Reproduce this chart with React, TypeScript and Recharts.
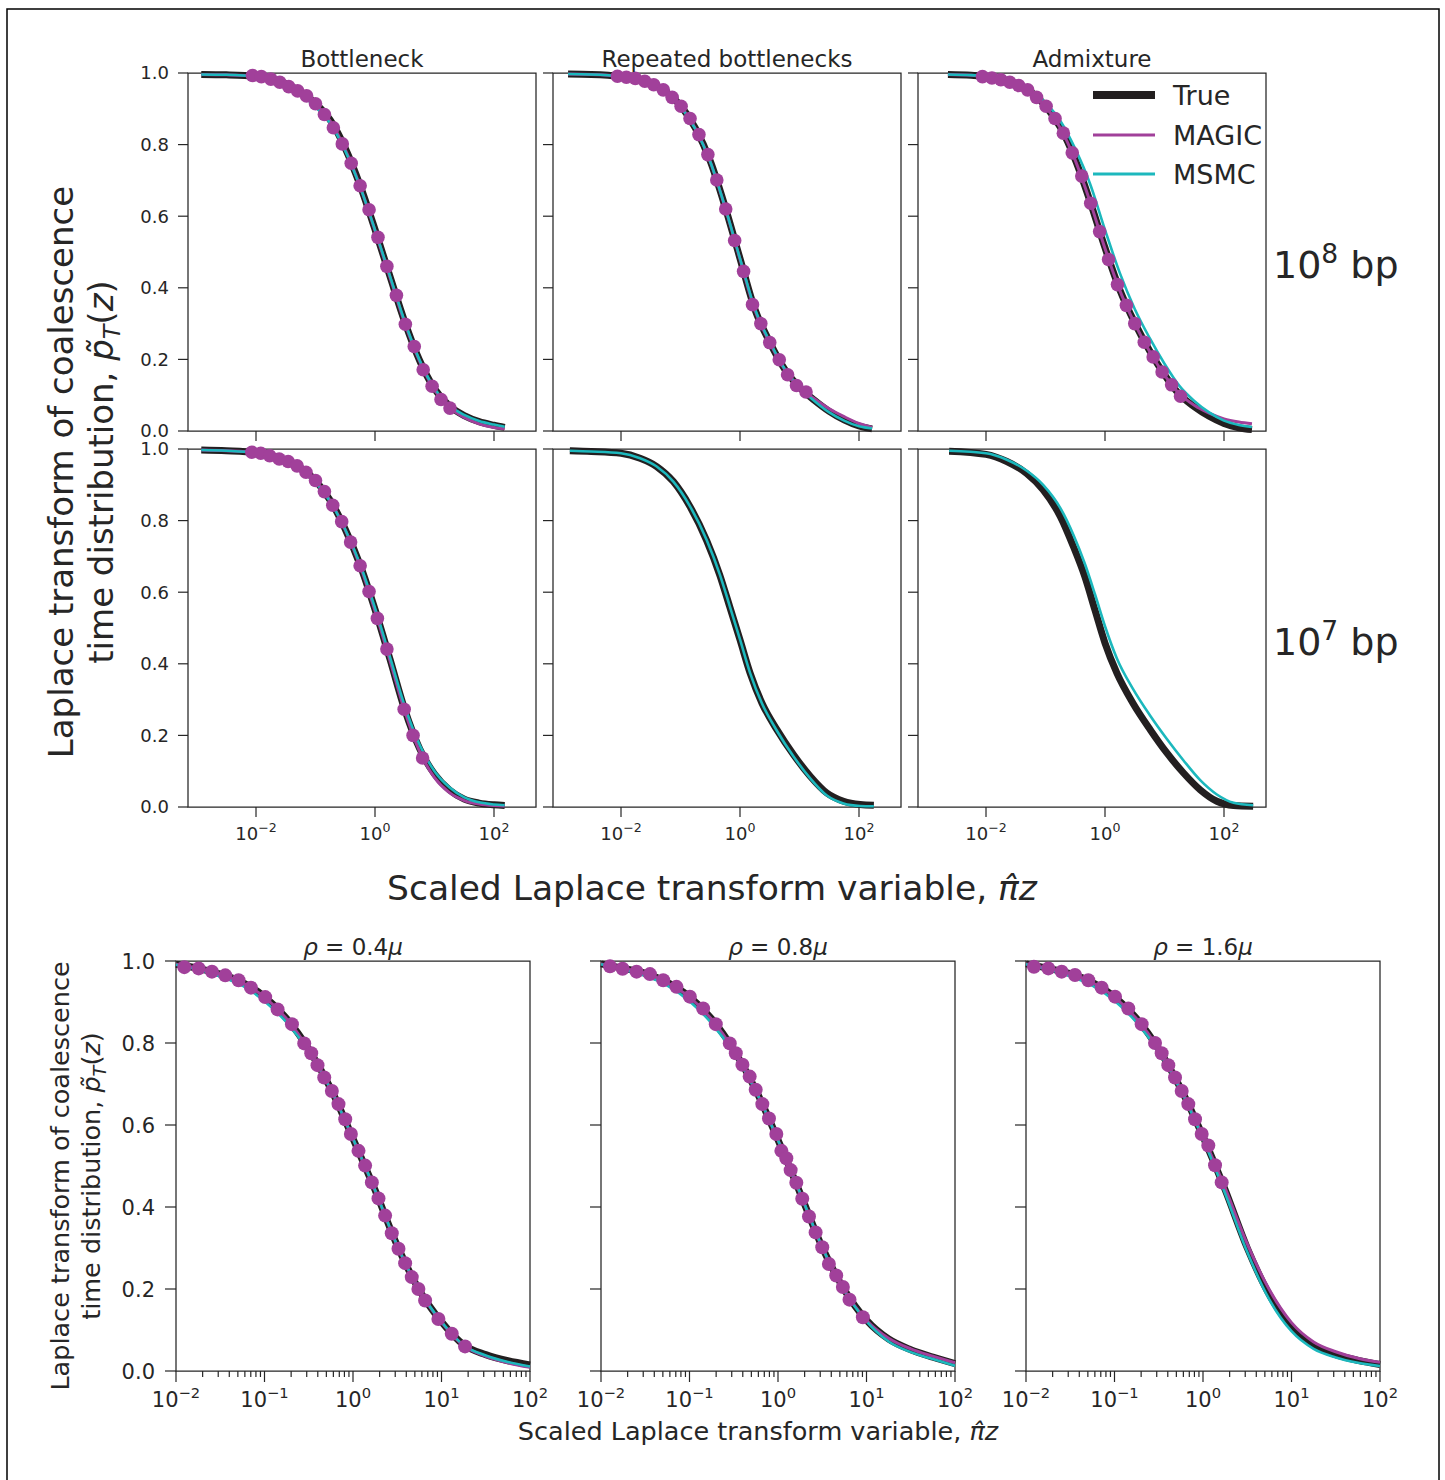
import React from "react";
import { ComposedChart, Line, XAxis, YAxis, ReferenceArea } from "recharts";

const FONT = "DejaVu Sans";
const INK = "#262626";
const TRUE_C = "#231f20";
const MAGIC_C = "#a1409a";
const MSMC_C = "#1cb8bd";

// x values are log10 of the scaled Laplace variable

// Bottleneck, 10^8 bp
const BN8_X = [-2.92, -2.5, -2.0, -1.5, -1.0, -0.75, -0.5, -0.25, 0, 0.25, 0.5, 0.75, 1.0, 1.25, 1.5, 1.75, 2.0, 2.18];
const BN8_TRUE = [0.996, 0.995, 0.991, 0.97, 0.915, 0.868, 0.79, 0.686, 0.563, 0.433, 0.305, 0.197, 0.118, 0.07, 0.043, 0.026, 0.016, 0.01];
const BN8_MAGIC = [0.996, 0.995, 0.991, 0.97, 0.913, 0.865, 0.786, 0.683, 0.56, 0.43, 0.302, 0.195, 0.115, 0.066, 0.038, 0.02, 0.01, 0.006];
const BN8_MSMC = [0.996, 0.995, 0.99, 0.966, 0.905, 0.858, 0.782, 0.682, 0.562, 0.434, 0.306, 0.198, 0.119, 0.071, 0.045, 0.028, 0.018, 0.012];
const BN8_DOT_X = [-2.06, -1.91, -1.75, -1.6, -1.45, -1.3, -1.15, -1.0, -0.85, -0.7, -0.55, -0.4, -0.25, -0.1, 0.05, 0.2, 0.36, 0.51, 0.66, 0.81, 0.96, 1.11, 1.26];
const BN8_DOT_Y = [0.993, 0.99, 0.983, 0.974, 0.962, 0.95, 0.936, 0.914, 0.884, 0.847, 0.802, 0.748, 0.685, 0.618, 0.541, 0.46, 0.379, 0.298, 0.236, 0.171, 0.125, 0.088, 0.064];

// Repeated bottlenecks, 10^8 bp
const RB8_X = [-2.89, -2.5, -2.0, -1.5, -1.25, -1.0, -0.75, -0.5, -0.25, 0, 0.25, 0.5, 0.75, 1.0, 1.25, 1.5, 1.75, 2.0, 2.22];
const RB8_TRUE = [0.997, 0.996, 0.99, 0.971, 0.948, 0.909, 0.846, 0.754, 0.626, 0.482, 0.34, 0.248, 0.173, 0.122, 0.086, 0.055, 0.031, 0.014, 0.006];
const RB8_MAGIC = [0.997, 0.996, 0.99, 0.971, 0.948, 0.908, 0.845, 0.752, 0.624, 0.48, 0.338, 0.247, 0.172, 0.122, 0.09, 0.062, 0.04, 0.021, 0.01];
const RB8_MSMC = [0.997, 0.996, 0.99, 0.97, 0.946, 0.906, 0.843, 0.752, 0.625, 0.482, 0.342, 0.25, 0.174, 0.121, 0.084, 0.052, 0.029, 0.013, 0.007];
const RB8_DOT_X = [-2.06, -1.91, -1.76, -1.6, -1.45, -1.29, -1.14, -0.99, -0.84, -0.69, -0.54, -0.39, -0.24, -0.09, 0.06, 0.21, 0.35, 0.5, 0.66, 0.8, 0.95, 1.11];
const RB8_DOT_Y = [0.991, 0.988, 0.985, 0.977, 0.967, 0.953, 0.932, 0.907, 0.873, 0.828, 0.772, 0.701, 0.62, 0.532, 0.446, 0.353, 0.3, 0.247, 0.199, 0.157, 0.127, 0.109];

// Admixture, 10^8 bp
const AD8_X = [-2.64, -2.25, -2.0, -1.5, -1.25, -1.0, -0.75, -0.5, -0.25, 0, 0.25, 0.5, 0.75, 1.0, 1.25, 1.5, 1.75, 2.0, 2.25, 2.47];
const AD8_TRUE = [0.996, 0.994, 0.989, 0.971, 0.948, 0.908, 0.848, 0.758, 0.641, 0.512, 0.394, 0.302, 0.224, 0.157, 0.102, 0.068, 0.041, 0.021, 0.009, 0.004];
const AD8_MAGIC = [0.996, 0.994, 0.989, 0.971, 0.948, 0.907, 0.846, 0.756, 0.64, 0.51, 0.392, 0.3, 0.222, 0.156, 0.104, 0.072, 0.05, 0.034, 0.025, 0.02];
const AD8_MSMC = [0.996, 0.994, 0.99, 0.972, 0.952, 0.917, 0.866, 0.788, 0.69, 0.562, 0.441, 0.341, 0.26, 0.188, 0.126, 0.084, 0.052, 0.029, 0.017, 0.011];
const AD8_DOT_X = [-2.06, -1.9, -1.75, -1.6, -1.45, -1.3, -1.15, -0.99, -0.84, -0.7, -0.55, -0.39, -0.24, -0.09, 0.06, 0.21, 0.36, 0.5, 0.66, 0.81, 0.96, 1.12, 1.27];
const AD8_DOT_Y = [0.99, 0.986, 0.981, 0.974, 0.965, 0.953, 0.932, 0.907, 0.873, 0.832, 0.777, 0.712, 0.636, 0.557, 0.479, 0.409, 0.351, 0.3, 0.248, 0.207, 0.165, 0.129, 0.097];

// Bottleneck, 10^7 bp
const BN7_X = [-2.92, -2.5, -2.0, -1.5, -1.0, -0.75, -0.5, -0.25, 0, 0.25, 0.5, 0.75, 1.0, 1.25, 1.5, 1.75, 2.0, 2.18];
const BN7_TRUE = [0.997, 0.995, 0.99, 0.968, 0.912, 0.856, 0.776, 0.676, 0.552, 0.414, 0.272, 0.163, 0.092, 0.048, 0.022, 0.011, 0.006, 0.004];
const BN7_MAGIC = [0.997, 0.995, 0.99, 0.968, 0.911, 0.855, 0.774, 0.673, 0.548, 0.41, 0.268, 0.155, 0.082, 0.04, 0.018, 0.008, 0.004, 0.003];
const BN7_MSMC = [0.997, 0.995, 0.989, 0.965, 0.906, 0.852, 0.775, 0.678, 0.556, 0.42, 0.282, 0.174, 0.1, 0.055, 0.027, 0.013, 0.007, 0.005];
const BN7_DOT_X = [-2.07, -1.92, -1.77, -1.61, -1.46, -1.31, -1.16, -1.0, -0.85, -0.71, -0.56, -0.41, -0.25, -0.1, 0.04, 0.2, 0.49, 0.64, 0.8];
const BN7_DOT_Y = [0.991, 0.988, 0.981, 0.972, 0.965, 0.953, 0.935, 0.912, 0.881, 0.843, 0.797, 0.74, 0.674, 0.602, 0.527, 0.441, 0.273, 0.2, 0.137];

// Repeated bottlenecks, 10^7 bp
const RB7_X = [-2.86, -2.5, -2.0, -1.68, -1.4, -1.12, -0.84, -0.56, -0.34, -0.17, 0, 0.17, 0.37, 0.62, 0.9, 1.18, 1.46, 1.74, 2.02, 2.25];
const RB7_TRUE = [0.995, 0.993, 0.988, 0.974, 0.951, 0.909, 0.839, 0.744, 0.648, 0.558, 0.467, 0.374, 0.29, 0.216, 0.146, 0.086, 0.039, 0.016, 0.007, 0.005];
const RB7_MSMC = [0.995, 0.993, 0.988, 0.974, 0.951, 0.909, 0.84, 0.746, 0.65, 0.56, 0.468, 0.374, 0.289, 0.213, 0.141, 0.08, 0.032, 0.01, 0.003, 0.002];

// Admixture, 10^7 bp
const AD7_X = [-2.62, -2.0, -1.65, -1.32, -1.04, -0.75, -0.53, -0.34, -0.17, 0, 0.2, 0.47, 0.76, 1.04, 1.32, 1.6, 1.88, 2.16, 2.49];
const AD7_TRUE = [0.994, 0.985, 0.965, 0.932, 0.886, 0.811, 0.727, 0.644, 0.551, 0.458, 0.374, 0.29, 0.216, 0.151, 0.095, 0.048, 0.016, 0.004, 0.002];
const AD7_MSMC = [0.995, 0.988, 0.97, 0.94, 0.9, 0.835, 0.76, 0.68, 0.595, 0.505, 0.415, 0.33, 0.255, 0.19, 0.13, 0.075, 0.035, 0.012, 0.005];

// recombination rate panels
const RHO_X = [-2, -1.75, -1.5, -1.25, -1.0, -0.75, -0.5, -0.25, 0, 0.25, 0.5, 0.75, 1.0, 1.25, 1.5, 1.75, 2.0];

const P04_TRUE = [0.992, 0.982, 0.968, 0.948, 0.913, 0.86, 0.785, 0.688, 0.567, 0.441, 0.306, 0.197, 0.12, 0.064, 0.04, 0.025, 0.015];
const P04_MAGIC = [0.992, 0.982, 0.968, 0.947, 0.912, 0.859, 0.783, 0.687, 0.566, 0.44, 0.305, 0.196, 0.119, 0.062, 0.036, 0.02, 0.009];
const P04_MSMC = [0.991, 0.979, 0.962, 0.94, 0.902, 0.85, 0.779, 0.686, 0.567, 0.441, 0.306, 0.197, 0.12, 0.063, 0.038, 0.022, 0.011];
const P04_DOT_X = [-1.906, -1.744, -1.594, -1.443, -1.293, -1.153, -0.992, -0.852, -0.69, -0.551, -0.472, -0.401, -0.325, -0.239, -0.164, -0.088, -0.024, 0.062, 0.137, 0.213, 0.288, 0.363, 0.438, 0.514, 0.589, 0.664, 0.739, 0.815, 0.965, 1.116, 1.266];
const P04_DOT_Y = [0.985, 0.982, 0.974, 0.965, 0.953, 0.935, 0.912, 0.882, 0.846, 0.799, 0.775, 0.746, 0.716, 0.683, 0.651, 0.614, 0.578, 0.537, 0.501, 0.46, 0.421, 0.379, 0.336, 0.298, 0.263, 0.229, 0.2, 0.172, 0.127, 0.091, 0.06];

const P08_TRUE = [0.993, 0.982, 0.97, 0.948, 0.913, 0.859, 0.783, 0.685, 0.564, 0.434, 0.302, 0.198, 0.124, 0.078, 0.052, 0.034, 0.018];
const P08_MAGIC = [0.993, 0.982, 0.97, 0.947, 0.912, 0.858, 0.782, 0.684, 0.563, 0.433, 0.301, 0.197, 0.124, 0.08, 0.054, 0.036, 0.02];
const P08_MSMC = [0.992, 0.979, 0.964, 0.94, 0.902, 0.848, 0.776, 0.682, 0.563, 0.434, 0.302, 0.196, 0.121, 0.072, 0.046, 0.029, 0.013];
const P08_DOT_X = [-1.898, -1.756, -1.598, -1.447, -1.297, -1.147, -0.996, -0.846, -0.703, -0.545, -0.477, -0.402, -0.32, -0.252, -0.177, -0.102, -0.019, 0.038, 0.094, 0.143, 0.207, 0.274, 0.35, 0.425, 0.5, 0.575, 0.658, 0.733, 0.808, 0.959];
const P08_DOT_Y = [0.987, 0.981, 0.974, 0.968, 0.953, 0.937, 0.913, 0.884, 0.846, 0.799, 0.775, 0.747, 0.718, 0.686, 0.651, 0.616, 0.578, 0.537, 0.519, 0.49, 0.459, 0.42, 0.377, 0.338, 0.302, 0.261, 0.233, 0.205, 0.174, 0.131];

const P16_TRUE = [0.993, 0.982, 0.969, 0.948, 0.913, 0.86, 0.785, 0.688, 0.572, 0.442, 0.3, 0.186, 0.108, 0.063, 0.04, 0.026, 0.016];
const P16_MAGIC = [0.993, 0.982, 0.969, 0.947, 0.912, 0.859, 0.785, 0.688, 0.572, 0.446, 0.31, 0.198, 0.118, 0.071, 0.047, 0.031, 0.021];
const P16_MSMC = [0.992, 0.979, 0.963, 0.94, 0.903, 0.85, 0.778, 0.684, 0.566, 0.433, 0.29, 0.174, 0.097, 0.054, 0.033, 0.02, 0.012];
const P16_DOT_X = [-1.91, -1.748, -1.597, -1.446, -1.296, -1.145, -0.994, -0.844, -0.693, -0.542, -0.467, -0.392, -0.316, -0.241, -0.166, -0.09, -0.015, 0.06, 0.136, 0.211];
const P16_DOT_Y = [0.986, 0.982, 0.974, 0.966, 0.953, 0.935, 0.913, 0.884, 0.846, 0.8, 0.775, 0.746, 0.716, 0.683, 0.651, 0.614, 0.578, 0.55, 0.502, 0.46];

const Y_TICKS = [0, 0.2, 0.4, 0.6, 0.8, 1.0];
const TOP_X_TICKS = [-2, 0, 2];
const BOTTOM_MAJOR = [-2, -1, 0, 1, 2];
const BOTTOM_MINOR = [-2, -1, 0, 1].flatMap((n) => [2, 3, 4, 5, 6, 7, 8, 9].map((k) => n + Math.log10(k)));
const BOTTOM_X_TICKS = [...BOTTOM_MAJOR, ...BOTTOM_MINOR];
const TOP_DOMAIN: [number, number] = [-3.143, 2.706];
const BOTTOM_DOMAIN: [number, number] = [-2, 2];

const pts = (xs: number[], ys: number[]) => xs.map((x, i) => ({ x, y: ys[i] }));

type Look = { fs: number; len: number; minor: number; yGap: number; xBase: number; r: number };
const SMALL: Look = { fs: 18, len: 10, minor: 0, yGap: 19, xBase: 33, r: 6.8 };
const BIG: Look = { fs: 21, len: 11, minor: 6, yGap: 21, xBase: 36, r: 7 };

function xTick(look: Look, showLabel: boolean) {
  return (props: any) => {
    const { x, y, payload } = props;
    const v: number = payload.value;
    const exp = Math.round(v);
    const major = Math.abs(v - exp) < 1e-6;
    return (
      <g>
        <line x1={x} x2={x} y1={y} y2={y + (major ? look.len : look.minor)} stroke={INK} strokeWidth={1.2} />
        {major && showLabel ? (
          <text x={x} y={y + look.xBase} textAnchor="middle" fontFamily={FONT} fontSize={look.fs} fill={INK}>
            10
            <tspan fontSize={look.fs * 0.7} dy={-look.fs * 0.42}>
              {exp < 0 ? `\u2212${-exp}` : `${exp}`}
            </tspan>
          </text>
        ) : null}
      </g>
    );
  };
}

function yTick(look: Look, showLabel: boolean) {
  return (props: any) => {
    const { x, y, payload } = props;
    const v: number = payload.value;
    return (
      <g>
        <line x1={x} x2={x - look.len} y1={y} y2={y} stroke={INK} strokeWidth={1.2} />
        {showLabel ? (
          <text x={x - look.yGap} y={y} dy="0.36em" textAnchor="end" fontFamily={FONT} fontSize={look.fs} fill={INK}>
            {v.toFixed(1)}
          </text>
        ) : null}
      </g>
    );
  };
}

type PanelProps = {
  x: number;
  y: number;
  w: number;
  h: number;
  domain: [number, number];
  xTicks: number[];
  xLabels: boolean;
  yLabels: boolean;
  look: Look;
  lx: number[];
  tru: number[];
  msmc: number[];
  magic?: number[];
  dotX?: number[];
  dotY?: number[];
};

function Panel(p: PanelProps) {
  const ML = 72;
  const MR = 34;
  const MT = 14;
  const MB = 52;
  return (
    <div style={{ position: "absolute", left: p.x - ML, top: p.y - MT }}>
      <ComposedChart width={p.w + ML + MR} height={p.h + MT + MB} margin={{ top: MT, right: MR, bottom: 0, left: 0 }}>
        <XAxis
          type="number"
          dataKey="x"
          domain={p.domain}
          ticks={p.xTicks}
          interval={0}
          height={MB}
          axisLine={false}
          tickLine={false}
          tickSize={0}
          tickMargin={0}
          tick={xTick(p.look, p.xLabels)}
        />
        <YAxis
          type="number"
          domain={[0, 1]}
          ticks={Y_TICKS}
          interval={0}
          width={ML}
          axisLine={false}
          tickLine={false}
          tickSize={0}
          tickMargin={0}
          tick={yTick(p.look, p.yLabels)}
        />
        <Line data={pts(p.lx, p.tru)} dataKey="y" name="True" type="monotone" stroke={TRUE_C} strokeWidth={7} dot={false} activeDot={false} isAnimationActive={false} />
        {p.magic ? (
          <Line data={pts(p.lx, p.magic)} dataKey="y" name="MAGIC" type="monotone" stroke={MAGIC_C} strokeWidth={3} dot={false} activeDot={false} isAnimationActive={false} />
        ) : null}
        <Line data={pts(p.lx, p.msmc)} dataKey="y" name="MSMC" type="monotone" stroke={MSMC_C} strokeWidth={2.6} dot={false} activeDot={false} isAnimationActive={false} />
        {p.dotX && p.dotY ? (
          <Line
            data={pts(p.dotX, p.dotY)}
            dataKey="y"
            name="MAGIC points"
            stroke="none"
            dot={{ r: p.look.r, fill: MAGIC_C, stroke: "none", strokeWidth: 0 }}
            activeDot={false}
            isAnimationActive={false}
          />
        ) : null}
        <ReferenceArea x1={p.domain[0]} x2={p.domain[1]} y1={0} y2={1} fill="none" stroke={INK} strokeWidth={1.25} ifOverflow="visible" />
      </ComposedChart>
    </div>
  );
}

const TOP_COLS = [188, 553, 918];
const TOP_ROWS = [73, 449];
const BOT_COLS = [176, 601, 1026];

function Labels() {
  const t = { fontFamily: FONT, fill: INK };
  const rowLabel = (y: number, e: string) => (
    <text x={1273} y={y} fontSize={38} {...t}>
      10
      <tspan fontSize={26.6} dy={-15}>
        {e}
      </tspan>
      <tspan dy={15}> bp</tspan>
    </text>
  );
  const rho = (cx: number, v: string) => (
    <text x={cx} y={955} fontSize={23} textAnchor="middle" {...t}>
      <tspan fontStyle="italic">ρ</tspan> = {v}
      <tspan fontStyle="italic">μ</tspan>
    </text>
  );
  const yLabel = (bx1: number, bx2: number, cy: number, fs: number) => (
    <g>
      <text x={bx1} y={cy} transform={`rotate(-90 ${bx1} ${cy})`} textAnchor="middle" fontSize={fs} {...t}>
        Laplace transform of coalescence
      </text>
      <text x={bx2} y={cy} transform={`rotate(-90 ${bx2} ${cy})`} textAnchor="middle" fontSize={fs} {...t}>
        time distribution, <tspan fontStyle="italic">p̃</tspan>
        <tspan fontStyle="italic" fontSize={fs * 0.7} dy={fs * 0.22}>
          T
        </tspan>
        <tspan dy={-fs * 0.22}>(</tspan>
        <tspan fontStyle="italic">z</tspan>)
      </text>
    </g>
  );
  const xLabel = (cx: number, by: number, fs: number) => (
    <text x={cx} y={by} textAnchor="middle" fontSize={fs} {...t}>
      Scaled Laplace transform variable, <tspan fontStyle="italic">π̂z</tspan>
    </text>
  );
  const legend = [
    { name: "True", color: TRUE_C, w: 8, y: 95 },
    { name: "MAGIC", color: MAGIC_C, w: 3, y: 135 },
    { name: "MSMC", color: MSMC_C, w: 3, y: 174 },
  ];
  return (
    <svg width={1445} height={1480} style={{ position: "absolute", left: 0, top: 0, pointerEvents: "none" }}>
      <rect x={7} y={9} width={1432} height={1500} fill="none" stroke="#000" strokeWidth={1.5} />
      <text x={362} y={67} fontSize={23} textAnchor="middle" {...t}>Bottleneck</text>
      <text x={727} y={67} fontSize={23} textAnchor="middle" {...t}>Repeated bottlenecks</text>
      <text x={1092} y={67} fontSize={23} textAnchor="middle" {...t}>Admixture</text>
      {rowLabel(278, "8")}
      {rowLabel(655, "7")}
      {yLabel(73, 113, 472, 34)}
      {xLabel(712, 900, 34.5)}
      {rho(353, "0.4")}
      {rho(778, "0.8")}
      {rho(1203, "1.6")}
      {yLabel(69, 100, 1176, 25.5)}
      {xLabel(758, 1440, 25.5)}
      {legend.map((l) => (
        <g key={l.name}>
          <line x1={1093} x2={1155} y1={l.y} y2={l.y} stroke={l.color} strokeWidth={l.w} />
          <text x={1173} y={l.y + 10} fontSize={27} {...t}>
            {l.name}
          </text>
        </g>
      ))}
    </svg>
  );
}

export default function App() {
  const top = { w: 348, h: 358, domain: TOP_DOMAIN, xTicks: TOP_X_TICKS, look: SMALL };
  const bot = { w: 354, h: 410, domain: BOTTOM_DOMAIN, xTicks: BOTTOM_X_TICKS, look: BIG, xLabels: true, lx: RHO_X };
  return (
    <div style={{ position: "absolute", left: 0, top: 0, width: 1445, height: 1480, overflow: "hidden", background: "#fff" }}>
      <Panel {...top} x={TOP_COLS[0]} y={TOP_ROWS[0]} xLabels={false} yLabels lx={BN8_X} tru={BN8_TRUE} magic={BN8_MAGIC} msmc={BN8_MSMC} dotX={BN8_DOT_X} dotY={BN8_DOT_Y} />
      <Panel {...top} x={TOP_COLS[1]} y={TOP_ROWS[0]} xLabels={false} yLabels={false} lx={RB8_X} tru={RB8_TRUE} magic={RB8_MAGIC} msmc={RB8_MSMC} dotX={RB8_DOT_X} dotY={RB8_DOT_Y} />
      <Panel {...top} x={TOP_COLS[2]} y={TOP_ROWS[0]} xLabels={false} yLabels={false} lx={AD8_X} tru={AD8_TRUE} magic={AD8_MAGIC} msmc={AD8_MSMC} dotX={AD8_DOT_X} dotY={AD8_DOT_Y} />
      <Panel {...top} x={TOP_COLS[0]} y={TOP_ROWS[1]} xLabels yLabels lx={BN7_X} tru={BN7_TRUE} magic={BN7_MAGIC} msmc={BN7_MSMC} dotX={BN7_DOT_X} dotY={BN7_DOT_Y} />
      <Panel {...top} x={TOP_COLS[1]} y={TOP_ROWS[1]} xLabels yLabels={false} lx={RB7_X} tru={RB7_TRUE} msmc={RB7_MSMC} />
      <Panel {...top} x={TOP_COLS[2]} y={TOP_ROWS[1]} xLabels yLabels={false} lx={AD7_X} tru={AD7_TRUE} msmc={AD7_MSMC} />
      <Panel {...bot} x={BOT_COLS[0]} y={961} yLabels tru={P04_TRUE} magic={P04_MAGIC} msmc={P04_MSMC} dotX={P04_DOT_X} dotY={P04_DOT_Y} />
      <Panel {...bot} x={BOT_COLS[1]} y={961} yLabels={false} tru={P08_TRUE} magic={P08_MAGIC} msmc={P08_MSMC} dotX={P08_DOT_X} dotY={P08_DOT_Y} />
      <Panel {...bot} x={BOT_COLS[2]} y={961} yLabels={false} tru={P16_TRUE} magic={P16_MAGIC} msmc={P16_MSMC} dotX={P16_DOT_X} dotY={P16_DOT_Y} />
      <Labels />
    </div>
  );
}
